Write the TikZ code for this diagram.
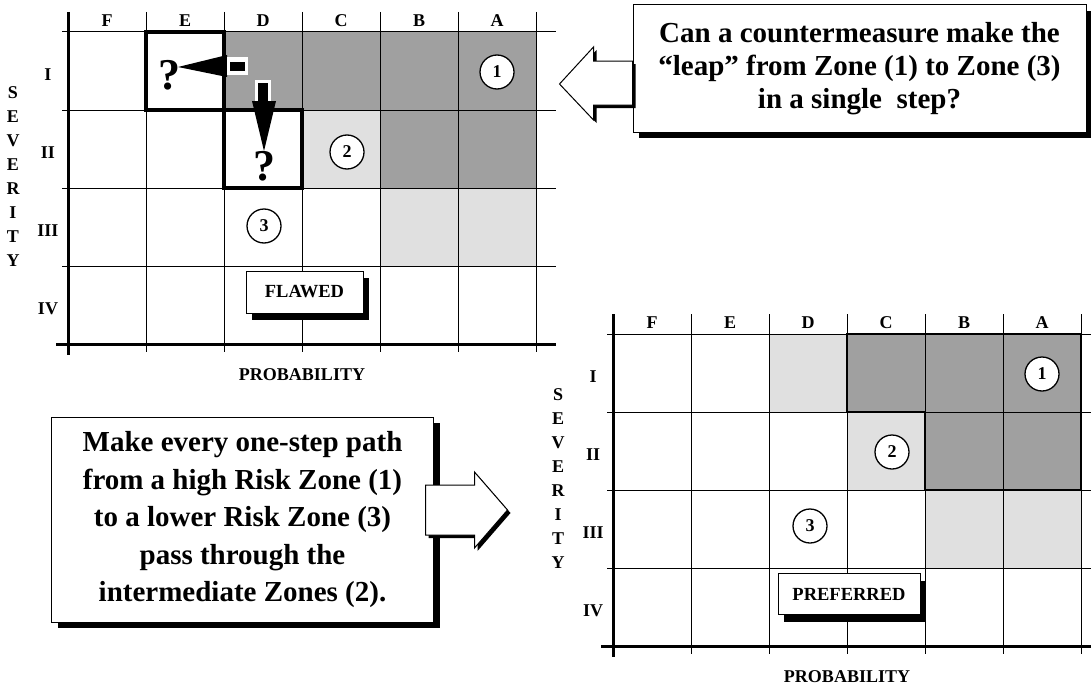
\documentclass[tikz,border=0pt]{standalone}
\usepackage{fontspec}
\setmainfont{Liberation Serif}
\usetikzlibrary{positioning}
\definecolor{riskdark}{HTML}{A0A0A0}
\definecolor{risklight}{HTML}{E0E0E0}

% lines, axes and labels of one risk matrix (origin = top left cell corner)
% #1 = name prefix, #2 = right end of the row lines
\newcommand{\riskgrid}[2]{%
  \foreach \c in {1,...,6} \draw[gridline] (78*\c,-20) -- (78*\c,320);
  \foreach \r in {0,1,2,3} \draw[gridline] (-6,78*\r) -- (#2,78*\r);
  \draw[axisline] (0,-20) -- (0,323);
  \draw[axisline] (-12,312) -- (#2,312);
  \foreach \l [count=\i from 0] in {F,E,D,C,B,A}
    \node[gridlab] (#1-col\l) at (39+78*\i,-11) {\l};
  \foreach \l [count=\i from 0] in {I,II,III,IV}
    \node[gridlab] (#1-row\l) at (-20,43+78*\i) {\l};
  \foreach \l [count=\i from 0] in {S,E,V,E,R,I,T,Y}
    \node[gridlab] (#1-sev\i) at (-55,61+24*\i) {\l};
  \node[gridlab] (#1-prob) at (234,343) {PROBABILITY};
}

\begin{document}
\begin{tikzpicture}[x=1pt, y=-1pt,
  gridline/.style={line width=1pt},
  axisline/.style={line width=3pt},
  thickbox/.style={line width=3.5pt},
  gridlab/.style={font=\fontsize{18}{18}\selectfont\bfseries, inner sep=0pt},
  zone/.style={circle, draw, fill=white, line width=1.3pt, minimum size=34, inner sep=0pt,
    font=\fontsize{18}{18}\selectfont\bfseries},
  quest/.style={font=\fontsize{44}{44}\selectfont\bfseries, inner sep=0pt},
  tagbox/.style={draw, fill=white, line width=1pt, inner sep=0pt,
    font=\fontsize{18.5}{18.5}\selectfont\bfseries,
    preaction={fill=black, transform canvas={xshift=6pt, yshift=-7pt}}},
  callout/.style={draw, fill=white, line width=1pt, align=center, inner sep=0pt,
    preaction={fill=black, transform canvas={xshift=6pt, yshift=-6pt}}},
  blockarrow/.style={draw, fill=white, line width=1pt, line join=miter,
    preaction={fill=black, transform canvas={xshift=3pt, yshift=-3pt}}},
]
\useasboundingbox (0,0) rectangle (1091,685);

% --- Flawed matrix (top left) ---
\begin{scope}[shift={(68,32)}]
  \fill[riskdark] (156,0) rectangle (468,78);    % row I: D..A
  \fill[riskdark] (312,78) rectangle (468,156);  % row II: B, A
  \fill[risklight] (234,78) rectangle (312,156); % row II: C
  \fill[risklight] (312,156) rectangle (468,234);% row III: B, A
  \riskgrid{flawed}{488}
  % the two one-step leaps
  \draw[thickbox] (78,0) rectangle (156,78);
  \draw[thickbox] (156,78) rectangle (234,156);
  \node[quest] (qleft) at (101,43) {?};
  \node[quest] (qdown) at (196,134) {?};
  \fill[black] (110,35) -- (159,23) -- (159,45) -- cycle;
  \fill[white] (159,25) rectangle (180,43);
  \fill[black] (162,30) rectangle (177,39);
  \fill[white] (187,48) rectangle (203,69);
  \fill[black] (190,51) rectangle (200,69);
  \fill[black] (184,69) -- (208,69) -- (196,119) -- cycle;
  \node[zone] (fz1) at (429,40) {1};
  \node[zone] (fz2) at (279,120) {2};
  \node[zone] (fz3) at (196,194) {3};
  \node[tagbox, minimum width=117, minimum height=42] (flawed) at (236.5,260) {FLAWED};
\end{scope}

% --- Preferred matrix (bottom right) ---
\begin{scope}[shift={(613,334)}]
  \fill[risklight] (156,0) rectangle (234,78);   % row I: D
  \fill[riskdark] (234,0) rectangle (468,78);    % row I: C..A
  \fill[risklight] (234,78) rectangle (312,156); % row II: C
  \fill[riskdark] (312,78) rectangle (468,156);  % row II: B, A
  \fill[risklight] (312,156) rectangle (468,234);% row III: B, A
  \riskgrid{preferred}{490}
  \draw[line width=1.8pt] (234,0) -- (468,0) -- (468,156) -- (312,156) -- (312,78) -- (234,78) -- cycle;
  \node[zone] (pz1) at (429,40) {1};
  \node[zone] (pz2) at (279,118) {2};
  \node[zone] (pz3) at (197,192) {3};
  \node[tagbox, minimum width=142, minimum height=41] (preferred) at (236,260) {PREFERRED};
\end{scope}

% --- Callouts ---
\node[callout, minimum width=453, minimum height=127,
  font=\fontsize{29}{33}\selectfont\bfseries] (leap) at (859.5,68.5)
  {Can a countermeasure make the\\“leap” from Zone (1) to Zone (3)\\in a single\ \ step?};
\draw[blockarrow] (leap.west) ++(0,-7.5) -- ++(-39,0) -- ++(0,-14) -- ++(-34,37)
  -- ++(34,36) -- ++(0,-15) -- ++(39,0) -- cycle;

\node[callout, minimum width=382, minimum height=205,
  font=\fontsize{29}{37.5}\selectfont\bfseries] (advice) at (242.5,519.8)
  {Make every one-step path\\from a high Risk Zone (1)\\to a lower Risk Zone (3)\\pass through the\\intermediate Zones (2).};
\draw[blockarrow] (advice.east) ++(-8.5,-34.8) -- ++(49,0) -- ++(0,-13) -- ++(33,38)
  -- ++(-33,38) -- ++(0,-13) -- ++(-49,0) -- cycle;

\end{tikzpicture}
\end{document}
